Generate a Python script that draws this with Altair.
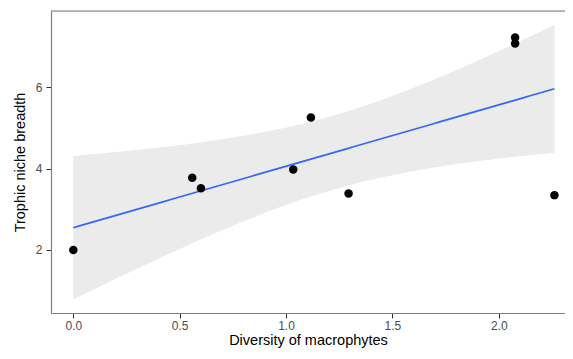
import altair as alt
import numpy as np
import pandas as pd

diversity = [0.0, 0.559, 0.600, 1.034, 1.117, 1.294, 2.077, 2.077, 2.262]
niche = [2.00, 3.78, 3.52, 3.98, 5.26, 3.39, 7.23, 7.08, 3.35]

x_ticks = [0.0, 0.5, 1.0, 1.5, 2.0]
y_ticks = [2, 4, 6]

pts = pd.DataFrame({"x": diversity, "y": niche})

# linear model fit (like geom_smooth(method="lm")) with confidence band
xa = np.array(diversity)
ya = np.array(niche)
n = len(xa)
slope, intercept = np.polyfit(xa, ya, 1)
resid = ya - (intercept + slope * xa)
s = np.sqrt((resid ** 2).sum() / (n - 2))
sxx = ((xa - xa.mean()) ** 2).sum()
t_crit = 1.94
grid = np.linspace(xa.min(), xa.max(), 80)
fit = intercept + slope * grid
se = s * np.sqrt(1.0 / n + (grid - xa.mean()) ** 2 / sxx)
band = pd.DataFrame({"x": grid, "fit": fit, "lo": fit - t_crit * se, "hi": fit + t_crit * se})
top_edge = pd.DataFrame({"y": [7.88]})

xscale = alt.Scale(domain=[-0.105, 2.3116], nice=False, zero=False)
yscale = alt.Scale(domain=[0.45, 7.88], nice=False, zero=False)

xaxis = alt.Axis(values=x_ticks, format=".1f", title="Diversity of macrophytes",
                 grid=False, domain=True, domainColor="#7F7F7F", domainWidth=1.2,
                 tickSize=5, labelPadding=2,
                 tickColor="#333333", labelColor="#4D4D4D", labelFontSize=12,
                 titleFontSize=14.5, titleFontWeight="normal", titleColor="#000000",
                 titleY=31.5, titleBaseline="alphabetic")
yaxis = alt.Axis(values=y_ticks, format="d", title="Trophic niche breadth",
                 grid=False, domain=True, domainColor="#7F7F7F", domainWidth=1.2,
                 tickSize=5, labelPadding=4,
                 tickColor="#333333", labelColor="#4D4D4D", labelFontSize=12,
                 titleFontSize=14.5, titleFontWeight="normal", titleColor="#000000",
                 titleX=-27, titleY=151, titleBaseline="alphabetic")

ribbon = alt.Chart(band).mark_area(color="#EBEBEB", opacity=1).encode(
    x=alt.X("x:Q", scale=xscale, axis=xaxis),
    y=alt.Y("lo:Q", scale=yscale, axis=yaxis),
    y2="hi:Q",
)
line = alt.Chart(band).mark_line(color="#3366FF", strokeWidth=1.7).encode(
    x=alt.X("x:Q", scale=xscale),
    y=alt.Y("fit:Q", scale=yscale),
)
points = alt.Chart(pts).mark_circle(color="black", opacity=1, size=72).encode(
    x=alt.X("x:Q", scale=xscale),
    y=alt.Y("y:Q", scale=yscale),
)
border_top = alt.Chart(top_edge).mark_rule(color="#7F7F7F", strokeWidth=1.2).encode(
    y=alt.Y("y:Q", scale=yscale),
)

chart = (ribbon + line + points + border_top).properties(
    width=514, height=302,
    padding={"left": 43, "top": 3, "right": 0, "bottom": 38},
    autosize=alt.AutoSizeParams(type="none"),
).configure_view(stroke=None).configure(font="Liberation Sans")

chart.save("out.html", embed_options={"renderer": "svg", "actions": False})
